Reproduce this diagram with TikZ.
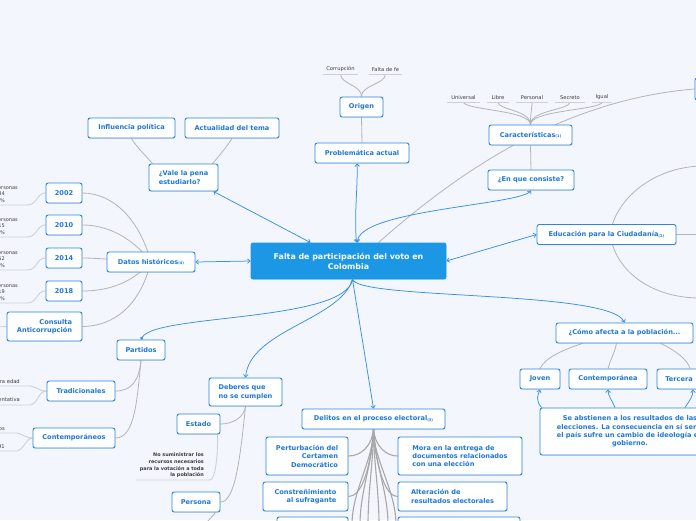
\documentclass[tikz,border=0pt]{standalone}
\usepackage{fontspec}
\setmainfont{DejaVu Sans}
\usetikzlibrary{arrows.meta,shadows}
\pgfdeclarelayer{bgl}
\pgfdeclarelayer{edges}
\pgfsetlayers{bgl,edges,main}
\definecolor{bg}{HTML}{F3F6FD}
\definecolor{nblue}{HTML}{2C86DB}
\definecolor{tblue}{HTML}{1F77D6}
\definecolor{cblue}{HTML}{1B97E6}
\definecolor{lblue}{HTML}{3A8FE2}
\definecolor{lgray}{HTML}{B4B4B4}
\definecolor{dgray}{HTML}{A8A8A8}
\definecolor{ulgray}{HTML}{CDD0D6}
\definecolor{tgray}{HTML}{3C3C3C}
\newcommand\idx[1]{\raisebox{-0.6pt}{\fontsize{3.6}{4}\selectfont(#1)}}
\begin{document}
\begin{tikzpicture}[x=1pt,y=-1pt,
  box/.style={draw=nblue, line width=0.9pt, fill=white, rounded corners=2.2pt, text=tblue,
    font=\bfseries\fontsize{6.6}{8.4}\selectfont, inner sep=0pt, align=center, minimum height=20pt,
    drop shadow={shadow xshift=0.3pt, shadow yshift=-0.9pt, opacity=0.15}},
  mainbox/.style={box, fill=cblue, draw=cblue, text=white, font=\bfseries\fontsize{7.9}{10}\selectfont},
  lbl/.style={font=\fontsize{5.2}{6.2}\selectfont, text=tgray, inner xsep=0pt, inner ysep=2.2pt},
  yl/.style={font=\fontsize{5}{6.3}\selectfont, text=tgray, align=right, inner sep=0pt},
  glink/.style={draw=lgray, line width=0.8pt},
  gthick/.style={draw=dgray, line width=1.1pt},
  ulg/.style={draw=ulgray, line width=0.9pt},
  blink/.style={draw=lblue, line width=0.75pt},
  arr/.style={-{Straight Barb[length=2.5pt,width=4.5pt]}},
  darr/.style={{Straight Barb[length=2.5pt,width=4.5pt]}-{Straight Barb[length=2.5pt,width=4.5pt]}}
]
\begin{pgfonlayer}{bgl}
\fill[bg] (0,0) rectangle (696,520);
\end{pgfonlayer}
\useasboundingbox (0,0) rectangle (696,520);

% ---------- nodes ----------
\node[mainbox, minimum width=195pt, minimum height=36pt] (central) at (348.5,261) {Falta de participación del voto en\\Colombia};

\node[box, minimum width=43pt] (origen) at (361.5,107) {Origen};
\node[box, minimum width=94pt] (problem) at (362,153) {Problemática actual};
\node[lbl, minimum width=35pt, anchor=south] (corrup) at (340.5,74) {Corrupción};
\node[lbl, minimum width=33pt, anchor=south] (faltafe) at (385.5,74) {Falta de fe};

\node[box, minimum width=83pt] (caract) at (530.5,135) {Características\idx{1}};
\node[box, minimum width=86pt] (enque) at (531,180) {¿En que consiste?};
\node[lbl, minimum width=33pt, anchor=south] (universal) at (463.5,102) {Universal};
\node[lbl, minimum width=22pt, anchor=south] (libre) at (498,102) {Libre};
\node[lbl, minimum width=32pt, anchor=south] (personal) at (532,102) {Personal};
\node[lbl, minimum width=30pt, anchor=south] (secreto) at (570,102) {Secreto};
\node[lbl, minimum width=20pt, anchor=south] (igual) at (602,102) {Igual};
\node[box, minimum width=60pt, minimum height=22pt] (tr) at (725,89) {};

\node[box, minimum width=139pt] (edu) at (606.5,234.5) {Educación para la Ciudadanía\idx{2}};
\coordinate (eduR) at (700,234.5);
\coordinate (eduUp) at (700,166);
\coordinate (eduDn) at (700,298);

\node[box, minimum width=137pt] (como) at (624.5,333) {¿Cómo afecta a la población...};
\node[box, minimum width=40pt] (joven) at (540,379) {Joven};
\node[box, minimum width=78pt] (contempa) at (608,379) {Contemporánea};
\node[box, minimum width=44pt] (tercera) at (679,379) {Tercera};
\node[box, minimum width=180pt, minimum height=47pt] (abst) at (630,431.5) {Se abstienen a los resultados de las\\elecciones. La consecuencia en sí sería\\el país sufre un cambio de ideología en\\gobierno.};

\node[box, minimum width=69pt, minimum height=27pt, align=left] (vale) at (183.5,177.5) {¿Vale la pena\\estudiarlo?};
\node[box, minimum width=87pt] (influ) at (131.5,128) {Influencia política};
\node[box, minimum width=94pt] (actual) at (232,128) {Actualidad del tema};

\node[box, minimum width=88pt] (datos) at (151,262) {Datos históricos\idx{4}};
\node[box, minimum width=36pt] (y2002) at (64,193) {2002};
\node[box, minimum width=36pt] (y2010) at (64,225) {2010};
\node[box, minimum width=36pt] (y2014) at (64,258) {2014};
\node[box, minimum width=36pt] (y2018) at (64,291) {2018};
\node[box, minimum width=75pt, minimum height=29pt, align=right] (consulta) at (44.5,326.5) {Consulta\\Anticorrupción};
\coordinate (consL) at (-5,327);
\node[yl, anchor=south east] (l02) at (5,203) {Cantidad de personas\hspace*{-13pt}\\11.249.734\\46,47\%};
\node[yl, anchor=south east] (l10) at (5,235) {Cantidad de personas\hspace*{-13pt}\\14.781.015\\49,29\%};
\node[yl, anchor=south east] (l14) at (5,268) {Cantidad de personas\hspace*{-13pt}\\13.222.352\\40,07\%};
\node[yl, anchor=south east] (l18) at (5,301) {Cantidad de personas\hspace*{-13pt}\\19.636.719\\53,38\%};

\node[box, minimum width=48pt] (partidos) at (141,350) {Partidos};
\node[box, minimum width=68pt] (trad) at (81,391) {Tradicionales};
\node[box, minimum width=82pt] (contemp) at (74,438) {Contemporáneos};
\node[lbl, anchor=south east] (lt1) at (20,386) {Tercera edad};
\node[lbl, anchor=south east] (lt2) at (20,405) {Democracia representativa};
\node[lbl, anchor=south east] (lc1) at (5,433) {Partidos nuevos};
\node[lbl, anchor=south east] (lc2) at (5,451) {Constitución de 1991};

\node[box, minimum width=73pt, minimum height=28pt, align=left] (deberes) at (245.5,392) {Deberes que\\no se cumplen};
\node[box, minimum width=43pt] (estado) at (198.5,424) {Estado};
\node[box, minimum width=48pt] (persona) at (196,502) {Persona};
\node[font=\bfseries\fontsize{4.9}{6.7}\selectfont, text=tgray, align=right, inner sep=0pt, anchor=south east] (lest) at (204,478) {No suministrar los\\recursos necesarios\\para la votación a toda\\la población};
\coordinate (persOut) at (205,525);

\node[box, minimum width=143pt] (delitos) at (373.5,419) {Delitos en el proceso electoral\idx{3}};
\node[box, minimum width=82pt, minimum height=38pt, align=right] (pertur) at (307,456) {Perturbación del\\Certamen\\Democrático};
\node[box, minimum width=124pt, minimum height=38pt, align=left] (mora) at (460,456) {Mora en la entrega de\\documentos relacionados\\con una elección};
\node[box, minimum width=85pt, minimum height=29pt, align=right] (constr) at (305.5,496.5) {Constreñimiento\\al sufragante};
\node[box, minimum width=109pt, minimum height=29pt, align=left] (alter) at (452.5,496.5) {Alteración de\\resultados electorales};
\node[box, minimum width=71pt, minimum height=28pt] (botl) at (312.5,531) {};
\node[box, minimum width=122pt, minimum height=28pt] (botr) at (459,531) {};

% ---------- connectors ----------
\begin{pgfonlayer}{edges}
\draw[glink] (origen.south) -- (problem.north);
\draw[glink] (origen.north) .. controls (361.5,85) and (340.5,84) .. (corrup.south);
\draw[glink] (origen.north) .. controls (361.5,85) and (385.5,84) .. (faltafe.south);
\draw[ulg] (corrup.south west) -- (corrup.south east);
\draw[ulg] (faltafe.south west) -- (faltafe.south east);

\foreach \n in {universal,libre,personal,secreto,igual}{
  \draw[glink] (caract.north) .. controls (530.5,110) and ([yshift=-8pt]\n.south) .. (\n.south);
  \draw[ulg] (\n.south west) -- (\n.south east);
}
\draw[glink] (caract.south) -- (enque.north);
\draw[glink] ([xshift=30pt]central.north) .. controls (455,175) and (560,100) .. (tr.west);

\draw[glink] (edu.east) -- (eduR);
\draw[glink] ([xshift=6pt]edu.north) .. controls (622,195) and (655,168) .. (eduUp);
\draw[glink] ([xshift=6pt]edu.south) .. controls (622,275) and (655,298) .. (eduDn);

\draw[glink] ([xshift=-42pt]como.south) .. controls (562,350) and (545,358) .. (joven.north);
\draw[glink] ([xshift=-8pt]como.south) .. controls (614,355) and (610,360) .. (contempa.north);
\draw[glink] ([xshift=36pt]como.south) .. controls (675,350) and (688,360) .. ([xshift=11pt]tercera.north);

\draw[glink] ([xshift=-31pt]vale.north) .. controls (145,155) and (135,145) .. (influ.south);
\draw[glink] ([xshift=29pt]vale.north) .. controls (220,155) and (228,145) .. (actual.south);

\draw[glink] (datos.center) .. controls (138,215) and (110,193) .. (y2002.east);
\draw[glink] (datos.center) .. controls (130,235) and (105,225) .. (y2010.east);
\draw[glink] (datos.center) .. controls (120,260) and (95,258) .. (y2014.east);
\draw[glink] (datos.center) .. controls (130,285) and (105,291) .. (y2018.east);
\draw[glink] (datos.center) .. controls (140,305) and (115,326) .. (consulta.east);
\draw[ulg] (consulta.west) -- (consL);
\draw[ulg] ([yshift=-2pt]l02.south west) -- ([xshift=22pt,yshift=-2pt]l02.south east) .. controls (38,205) and (36,193) .. (y2002.west);
\draw[ulg] ([yshift=-2pt]l10.south west) -- ([xshift=22pt,yshift=-2pt]l10.south east) .. controls (38,237) and (36,225) .. (y2010.west);
\draw[ulg] ([yshift=-2pt]l14.south west) -- ([xshift=22pt,yshift=-2pt]l14.south east) .. controls (38,270) and (36,258) .. (y2014.west);
\draw[ulg] ([yshift=-2pt]l18.south west) -- ([xshift=22pt,yshift=-2pt]l18.south east) .. controls (38,303) and (36,291) .. (y2018.west);

\draw[glink] (partidos.south) .. controls (139,380) and (132,391) .. (trad.east);
\draw[glink] (partidos.south) .. controls (137,400) and (135,438) .. (contemp.east);
\draw[ulg] (lt1.south west) -- ([xshift=10pt]lt1.south east) .. controls (40,388) and (38,391) .. (trad.west);
\draw[ulg] (lt2.south west) -- ([xshift=7pt]lt2.south east) .. controls (38,407) and (37,391) .. (trad.west);
\draw[ulg] (lc1.south west) -- ([xshift=12pt]lc1.south east) .. controls (25,435) and (26,438) .. (contemp.west);
\draw[ulg] (lc2.south west) -- ([xshift=8pt]lc2.south east) .. controls (24,453) and (25,438) .. (contemp.west);

\draw[glink] (deberes.south) .. controls (244,418) and (232,424) .. (estado.east);
\draw[glink] (deberes.south) .. controls (240,460) and (235,502) .. (persona.east);
\draw[glink] ([xshift=-5pt]persona.south east) .. controls (214,515) and (208,520) .. (persOut);
\draw[ulg] ([xshift=-4pt,yshift=-2pt]lest.south west) -- ([xshift=6pt,yshift=-2pt]lest.south east) .. controls (216,480) and (218,450) .. ([xshift=19pt]estado.south);

\draw[gthick] (delitos.south) .. controls (372,445) and (362,456) .. (pertur.east);
\draw[gthick] (delitos.south) .. controls (375,445) and (385,456) .. (mora.west);
\draw[gthick] (delitos.south) .. controls (370,475) and (360,496.5) .. (constr.east);
\draw[gthick] (delitos.south) .. controls (377,475) and (387,496.5) .. (alter.west);
\foreach \k/\xx in {1/352,2/360,3/368,4/379,5/388,6/396}{
  \coordinate (dl\k) at (\xx,525);
  \draw[gthick] (delitos.south) .. controls (373.5,460) and (\xx,490) .. (dl\k);
}

% blue
\draw[blink, darr] ([xshift=-5pt]vale.south east) -- ([xshift=-38pt]central.north);
\draw[blink, darr] ([xshift=8pt]central.north) .. controls (354,215) and (358,185) .. ([xshift=-5pt]problem.south);
\draw[blink, darr] ([xshift=9pt]central.north) .. controls (358,210) and (520,205) .. (enque.south);
\draw[blink, darr] (central.east) -- (edu.west);
\draw[blink, darr] (datos.east) -- (central.west);
\draw[blink, -{Circle[length=3pt]}] ([xshift=4pt]central.south) .. controls (345,322) and (155,314) .. (partidos.north);
\draw[blink, arr] ([xshift=4pt]central.south) .. controls (340,320) and (250,330) .. (deberes.north);
\draw[blink, darr] (delitos.north) -- ([xshift=4pt]central.south);
\draw[blink, arr] ([xshift=4pt]central.south) .. controls (360,300) and (610,290) .. (como.north);
\draw[blink, arr] ([xshift=2pt]abst.north west) .. controls (535,400) and (538,395) .. (joven.south);
\draw[blink, arr] ([xshift=-15pt]abst.north) .. controls (612,400) and (608,396) .. (contempa.south);
\draw[blink, arr] ([xshift=55pt]abst.north) .. controls (690,400) and (693,396) .. ([xshift=14pt]tercera.south);
\end{pgfonlayer}
\end{tikzpicture}
\end{document}
